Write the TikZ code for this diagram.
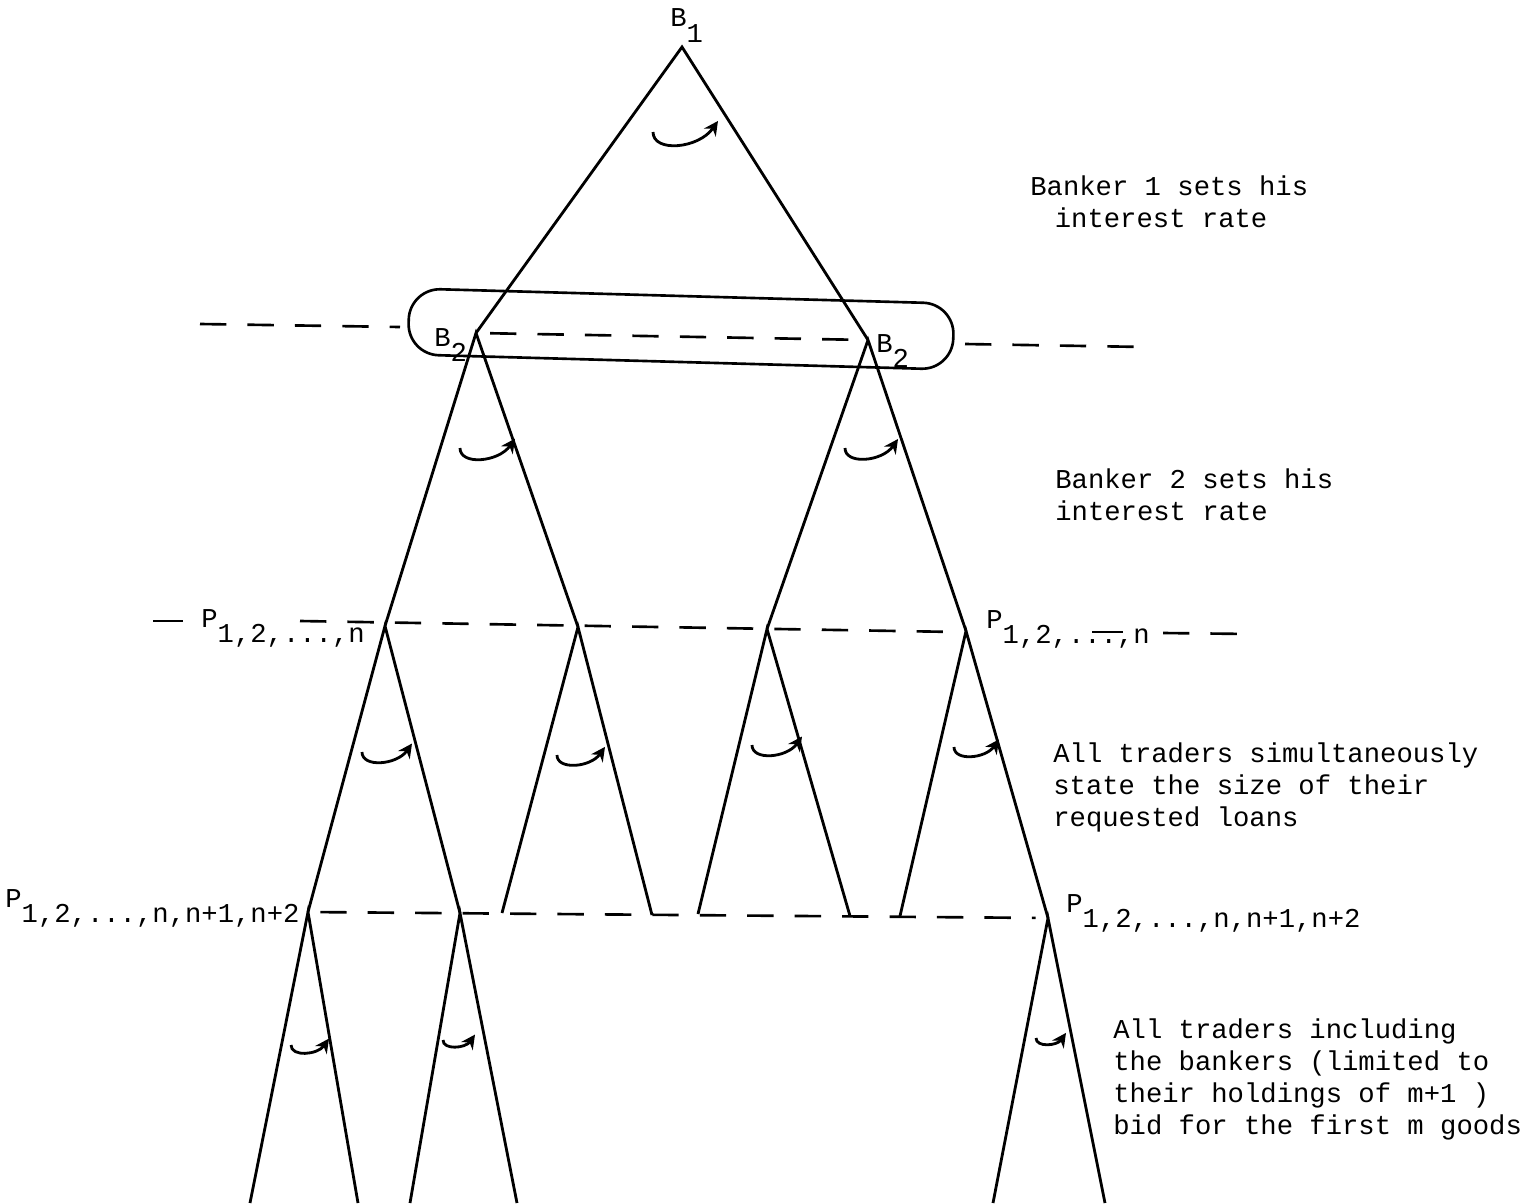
\documentclass[tikz,border=0pt]{standalone}
\usepackage{fontspec}
\setmainfont{Liberation Mono}
\usetikzlibrary{arrows.meta}

\newcommand{\dropsub}[1]{\raisebox{-9pt}{#1}}
\newcommand{\movearc}[3]{%
  \draw[pick] (#1,#2) .. controls ({#1},{#2+0.32*#3}) and ({#1+0.7*#3},{#2+0.26*#3}) .. ({#1+#3},{#2-0.17*#3});}

\begin{document}
\begin{tikzpicture}[x=0.02cm, y=-0.02cm,
    branch/.style={line width=1.6pt},
    infoline/.style={line width=1.5pt, dash pattern=on 15pt off 12pt},
    pick/.style={line width=1.6pt, -{Stealth[length=8pt, width=8pt]}},
    every node/.style={font=\fontsize{15.5}{18.1}\selectfont, inner sep=0pt}]
\useasboundingbox (0,0) rectangle (1537,1203);

% decision points
\coordinate (b1) at (682,47);
\coordinate (b2l) at (476,333);
\coordinate (b2r) at (868,340);
\coordinate (p1) at (385,626);
\coordinate (p2) at (578,627);
\coordinate (p3) at (767,629);
\coordinate (p4) at (966,631);
\coordinate (q1) at (308,912);
\coordinate (q2) at (460,913);
\coordinate (q3) at (502,913);
\coordinate (q4) at (652,915);
\coordinate (q5) at (698,914);
\coordinate (q6) at (850,916);
\coordinate (q7) at (900,916);
\coordinate (q8) at (1048,918);
\coordinate (r1) at (250,1203);
\coordinate (r2) at (358,1203);
\coordinate (r3) at (410,1203);
\coordinate (r4) at (517,1203);
\coordinate (r5) at (993,1203);
\coordinate (r6) at (1105,1203);

% branches
\draw[branch] (b2l) -- (b1) -- (b2r);
\draw[branch] (p1) -- (b2l) -- (p2);
\draw[branch] (p3) -- (b2r) -- (p4);
\draw[branch] (q1) -- (p1) -- (q2);
\draw[branch] (q3) -- (p2) -- (q4);
\draw[branch] (q5) -- (p3) -- (q6);
\draw[branch] (q7) -- (p4) -- (q8);
\draw[branch] (r1) -- (q1) -- (r2);
\draw[branch] (r3) -- (q2) -- (r4);
\draw[branch] (r5) -- (q8) -- (r6);

% information sets
\node[draw, line width=1.5pt, rounded corners=0.62cm, minimum width=10.9cm,
      minimum height=1.32cm, rotate=-1.6] (bankset) at (681,329) {};
\coordinate (t1) at (200,324);
\coordinate (t2) at (400,327);
\coordinate (t3) at (965,344);
\coordinate (t4) at (1145,347);
\draw[infoline] (t1) -- (t2);
\draw[infoline, shorten <=8pt, shorten >=8pt] (b2l) -- (b2r);
\draw[infoline] (t3) -- (t4);

\coordinate (u0) at (153,621);
\coordinate (u1) at (183,621);
\coordinate (u2) at (300,621);
\coordinate (u3) at (957,632);
\coordinate (u4) at (1092,632);
\coordinate (u5) at (1123,632);
\coordinate (u6) at (1163,633);
\coordinate (u7) at (1250,634);
\draw[branch] (u0) -- (u1);
\draw[infoline] (u2) -- (u3);
\draw[branch] (u4) -- (u5);
\draw[infoline] (u6) -- (u7);

\draw[infoline, shorten <=7pt, shorten >=7pt] (q1) -- (q8);

% moves
\movearc{653}{132}{65}
\movearc{460}{448}{55}
\movearc{845}{448}{53}
\movearc{362}{752}{50}
\movearc{557}{755}{48}
\movearc{752}{745}{50}
\movearc{954}{747}{45}
\movearc{291}{1045}{38}
\movearc{443}{1040}{32}
\movearc{1036}{1038}{30}

% player labels
\node[anchor=base west] (lb1) at (670,27) {B\dropsub{1}};
\node[anchor=base west] (lb2l) at (434,346) {B\dropsub{2}};
\node[anchor=base west] (lb2r) at (876,352) {B\dropsub{2}};
\node[anchor=base west] (lp2l) at (201,627) {P\dropsub{1,2,...,n}};
\node[anchor=base west] (lp2r) at (986,628) {P\dropsub{1,2,...,n}};
\node[anchor=base west] (lp3l) at (5,907) {P\dropsub{1,2,...,n,n+1,n+2}};
\node[anchor=base west] (lp3r) at (1066,912) {P\dropsub{1,2,...,n,n+1,n+2}};

% stage notes (anchored on the last line)
\node[anchor=base west, align=left] (note1) at (1030,227)
    {Banker 1 sets his\\\hspace*{0.9em}interest rate};
\node[anchor=base west, align=left] (note2) at (1055,520)
    {Banker 2 sets his\\interest rate};
\node[anchor=base west, align=left] (note3) at (1053,826)
    {All traders simultaneously\\state the size of their\\requested loans};
\node[anchor=base west, align=left] (note4) at (1113,1134)
    {All traders including\\the bankers (limited to\\their holdings of m+1 )\\bid for the first m goods};
\end{tikzpicture}
\end{document}
